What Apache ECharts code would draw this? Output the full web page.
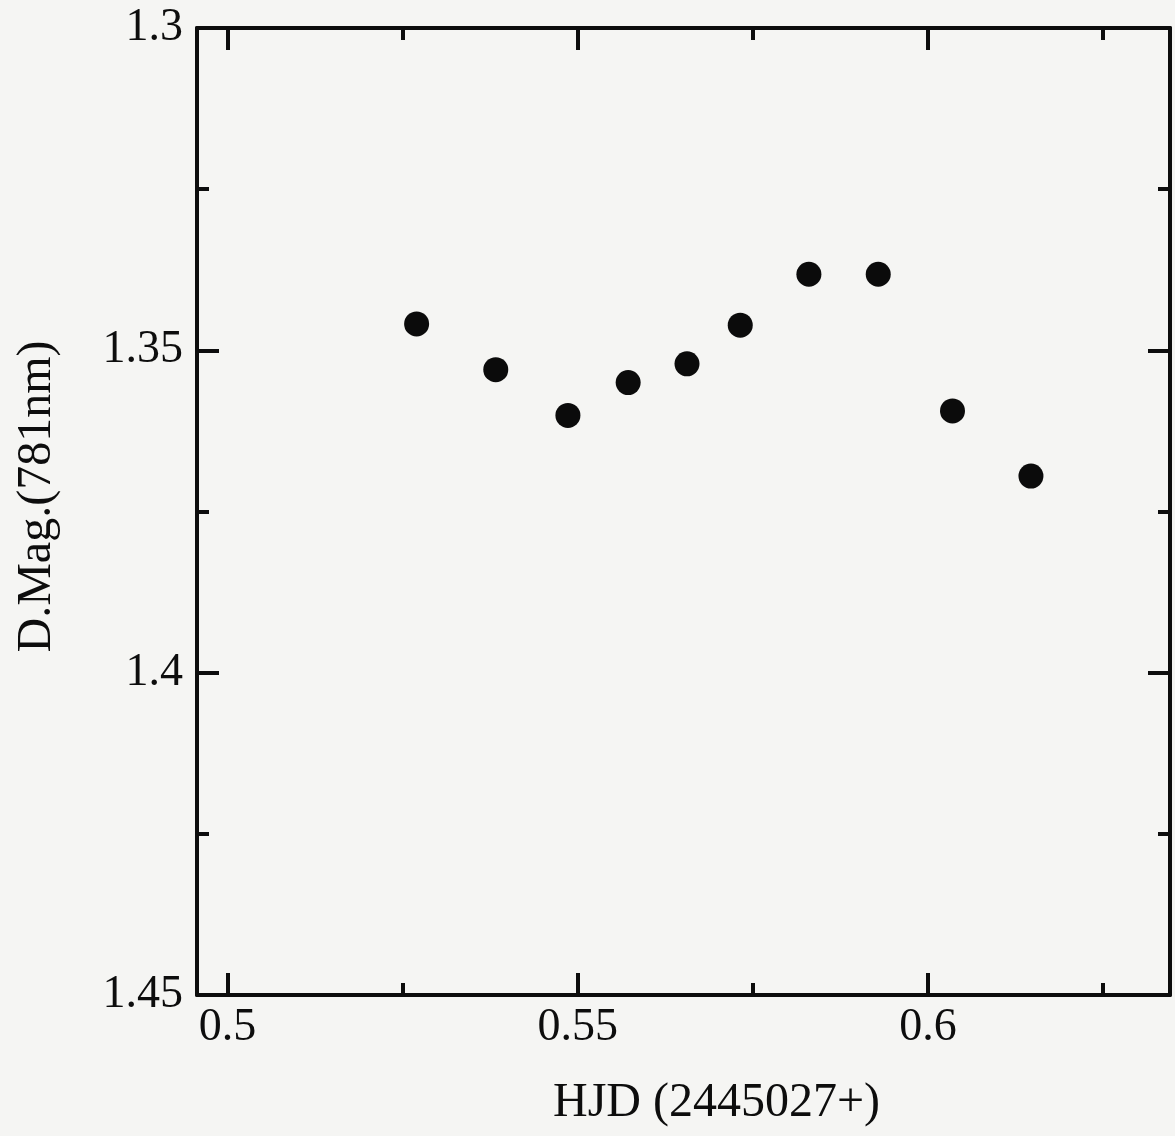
<!DOCTYPE html>
<html>
<head>
<meta charset="utf-8">
<script src="https://cdn.jsdelivr.net/npm/echarts@6/dist/echarts.min.js"></script>
<style>
  html, body { margin: 0; padding: 0; background: #f5f5f3; }
  #chart { width: 1175px; height: 1136px; }
</style>
</head>
<body>
<div id="chart"></div>
<script>
// HJD offsets (2445027+) and differential magnitudes at 781nm
var hjd = [0.5270, 0.5383, 0.5486, 0.5572, 0.5656, 0.5732, 0.5830, 0.5929, 0.6035, 0.6147];
var dmag = [1.3459, 1.3530, 1.3601, 1.3550, 1.3521, 1.3461, 1.3382, 1.3382, 1.3594, 1.3695];

var xMajorTicks = [0.5, 0.55, 0.6];
var xMinorTicks = [0.525, 0.575, 0.625];
var xLabels = [0.5, 0.55, 0.6];

var XMIN = 0.49565, XMAX = 0.63455;
var FONT = '"Liberation Serif", "DejaVu Serif", serif';
var INK = '#0d0d0d';

var points = [];
for (var i = 0; i < hjd.length; i++) {
	points.push([hjd[i], dmag[i]]);
}

function xAxisDef(pos, ticks, len, withLine, withLabel) {
	return {
		type: 'value',
		position: pos,
		min: XMIN,
		max: XMAX,
		splitLine: { show: false },
		axisLine: { show: withLine, onZero: false, lineStyle: { color: INK, width: 4 } },
		axisTick: { show: true, inside: true, length: len, customValues: ticks, lineStyle: { color: INK, width: 4 } },
		axisLabel: withLabel ? {
			show: true, customValues: xLabels, margin: 10,
			color: INK, fontFamily: FONT, fontSize: 46,
			formatter: function (v) { return String(+v.toFixed(3)); }
		} : { show: false }
	};
}

function yAxisDef(pos, withLabel) {
	return {
		type: 'value',
		position: pos,
		inverse: true,
		min: 1.3,
		max: 1.45,
		interval: 0.05,
		splitLine: { show: false },
		axisLine: { show: true, onZero: false, lineStyle: { color: INK, width: 4 } },
		axisTick: { show: true, inside: true, length: 22, lineStyle: { color: INK, width: 4 } },
		minorTick: { show: true, splitNumber: 2, length: 12, lineStyle: { color: INK, width: 4 } },
		axisLabel: withLabel ? {
			show: true, margin: 14,
			color: INK, fontFamily: FONT, fontSize: 46,
			formatter: function (v) { return String(+v.toFixed(3)); }
		} : { show: false }
	};
}

var chart = echarts.init(document.getElementById('chart'));

var xBottom = xAxisDef('bottom', xMajorTicks, 22, true, true);
xBottom.name = 'HJD (2445027+)';
xBottom.nameLocation = 'middle';
xBottom.nameGap = 84;
xBottom.nameTextStyle = { color: INK, fontFamily: FONT, fontSize: 48, padding: [0, 0, 0, 66] };

var yLeft = yAxisDef('left', true);
yLeft.name = 'D.Mag.(781nm)';
yLeft.nameLocation = 'middle';
yLeft.nameGap = 136;
yLeft.nameTextStyle = { color: INK, fontFamily: FONT, fontSize: 48, padding: [0, 0, 0, 30] };

var option = {
	backgroundColor: '#f5f5f3',
	animation: false,
	grid: { left: 197, right: 5, top: 28, bottom: 141, containLabel: false, outerBoundsMode: 'none' },
	xAxis: [
		xBottom,
		xAxisDef('bottom', xMinorTicks, 12, false, false),
		xAxisDef('top', xMajorTicks, 22, true, false),
		xAxisDef('top', xMinorTicks, 12, false, false)
	],
	yAxis: [
		yLeft,
		yAxisDef('right', false)
	],
	series: [
		{
			type: 'scatter',
			xAxisIndex: 0,
			yAxisIndex: 0,
			symbol: 'circle',
			symbolSize: 25,
			itemStyle: { color: '#0b0b0b', opacity: 1 },
			data: points
		}
	]
};
chart.setOption(option);
</script>
</body>
</html>
